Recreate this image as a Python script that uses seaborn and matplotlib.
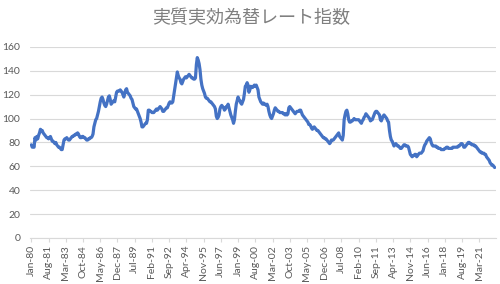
import matplotlib
matplotlib.use("Agg")
import matplotlib.pyplot as plt
import seaborn as sns
import pandas as pd
import numpy as np

title = "実質実効為替レート指数"
start_month = "1980-01"

# Monthly index values, Jan-1980 .. Aug-2022
values = [
    78, 76, 77, 76, 84, 82, 85, 83, 86, 88, 91, 90,          # 1980
    90, 88, 87, 86, 85, 84, 84, 83, 84, 85, 83, 81,          # 1981
    81, 80, 79, 80, 78, 77, 76, 76, 75, 74, 74, 78,          # 1982
    82, 83, 83, 84, 83, 82, 82, 83, 84, 85, 85, 86,          # 1983
    86, 87, 87, 88, 87, 85, 84, 84, 85, 85, 84, 84,          # 1984
    83, 82, 82, 83, 83, 84, 84, 85, 87, 93, 96, 99,          # 1985
    100, 103, 106, 110, 114, 117, 118, 116, 113, 111, 110, 112,  # 1986
    115, 118, 119, 116, 112, 113, 114, 115, 114, 118, 122, 123,  # 1987
    123, 123, 124, 123, 122, 120, 118, 121, 124, 125, 122, 121,  # 1988
    120, 119, 117, 116, 113, 110, 109, 108, 108, 106, 104, 102,  # 1989
    100, 97, 93, 93, 94, 95, 96, 96, 99, 107, 107, 106,      # 1990
    106, 105, 105, 105, 106, 107, 108, 107, 108, 109, 110, 109,  # 1991
    108, 106, 106, 107, 108, 109, 109, 111, 113, 114, 113, 113,  # 1992
    114, 119, 124, 129, 134, 139, 136, 134, 133, 130, 129, 131,  # 1993
    133, 134, 135, 134, 135, 136, 137, 136, 135, 134, 134, 133,  # 1994
    133, 134, 145, 151, 149, 146, 141, 133, 128, 125, 123, 121,  # 1995
    118, 117, 117, 116, 115, 114, 114, 113, 112, 111, 110, 108,  # 1996
    102, 100, 101, 103, 108, 110, 111, 110, 109, 107, 108, 110,  # 1997
    110, 112, 109, 106, 103, 101, 99, 96, 99, 106, 112, 115,     # 1998
    118, 116, 115, 113, 112, 114, 116, 121, 127, 128, 130, 128,  # 1999
    122, 124, 127, 126, 126, 127, 128, 127, 128, 126, 124, 118,  # 2000
    116, 114, 113, 112, 113, 112, 112, 111, 112, 110, 106, 103,  # 2001
    101, 100, 102, 104, 107, 109, 108, 107, 106, 106, 105, 105,  # 2002
    105, 105, 104, 104, 103, 104, 103, 104, 109, 110, 109, 108,  # 2003
    107, 106, 105, 104, 105, 106, 106, 106, 107, 107, 105, 103,  # 2004
    102, 101, 100, 99, 98, 97, 95, 95, 94, 92, 91, 92,       # 2005
    93, 92, 91, 90, 90, 89, 88, 87, 86, 85, 84, 84,          # 2006
    83, 83, 82, 81, 80, 79, 80, 82, 82, 82, 83, 84,          # 2007
    85, 86, 87, 88, 85, 84, 83, 82, 86, 99, 103, 106,        # 2008
    107, 104, 99, 97, 97, 98, 98, 99, 100, 99, 99, 99,       # 2009
    99, 99, 98, 97, 96, 98, 99, 101, 102, 104, 103, 102,     # 2010
    101, 100, 98, 99, 99, 101, 103, 105, 106, 106, 105, 104, # 2011
    103, 99, 98, 100, 102, 103, 102, 101, 100, 98, 97, 90,   # 2012
    85, 82, 81, 79, 77, 78, 79, 78, 77, 77, 76, 75,          # 2013
    75, 76, 77, 78, 78, 77, 77, 77, 76, 73, 70, 69,          # 2014
    68, 69, 69, 70, 70, 68, 69, 70, 71, 71, 71, 72,          # 2015
    73, 76, 78, 79, 81, 82, 83, 84, 83, 80, 78, 77,          # 2016
    77, 77, 77, 76, 76, 75, 75, 75, 74, 74, 74, 74,          # 2017
    75, 75, 76, 76, 75, 75, 75, 75, 75, 76, 76, 76,          # 2018
    76, 76, 76, 77, 77, 78, 79, 79, 78, 76, 76, 77,          # 2019
    78, 79, 80, 80, 79, 79, 78, 78, 78, 77, 77, 76,          # 2020
    75, 74, 73, 72, 72, 71, 71, 71, 70, 70, 68, 67,          # 2021
    66, 65, 63, 62, 61, 61, 60, 59,                          # 2022
]

tick_labels = ["Jan-80", "Aug-81", "Mar-83", "Oct-84", "May-86", "Dec-87",
               "Jul-89", "Feb-91", "Sep-92", "Apr-94", "Nov-95", "Jun-97",
               "Jan-99", "Aug-00", "Mar-02", "Oct-03", "May-05", "Dec-06",
               "Jul-08", "Feb-10", "Sep-11", "Apr-13", "Nov-14", "Jun-16",
               "Jan-18", "Aug-19", "Mar-21"]
y_ticks = [0, 20, 40, 60, 80, 100, 120, 140, 160]

months = pd.date_range(start_month, periods=len(values), freq="MS").strftime("%b-%y").tolist()
df = pd.DataFrame({"pos": np.arange(len(values)), "month": months, "value": values})
tick_pos = [months.index(l) for l in tick_labels]

sns.set_theme(style="white")
plt.rcParams["font.family"] = ["Lato", "Noto Sans CJK JP", "DejaVu Sans"]

fig = plt.figure(figsize=(5.0, 2.84), dpi=100)
ax = fig.add_axes([0.06, 0.162, 0.932, 0.673])

sns.lineplot(data=df, x="pos", y="value", ax=ax, color="#4472C4", linewidth=2.3)

ax.set_ylim(0, 160)
ax.set_xlim(-1.5, len(values) + 0.5)
ax.set_yticks(y_ticks)
ax.set_yticklabels([str(v) for v in y_ticks])
ax.set_xticks(tick_pos)
ax.set_xticklabels(tick_labels, rotation=90)
ax.grid(axis="y", color="#D9D9D9", linewidth=0.8)
ax.set_axisbelow(True)
for s in ["top", "right", "left"]:
    ax.spines[s].set_visible(False)
ax.spines["bottom"].set_color("#D9D9D9")
ax.spines["bottom"].set_linewidth(0.8)
ax.tick_params(axis="y", length=0, labelsize=7.5, labelcolor="#595959", pad=7)
ax.tick_params(axis="x", length=3, width=0.8, color="#D9D9D9", labelsize=7.5,
               labelcolor="#595959", pad=2, bottom=True)
ax.set_xlabel("")
ax.set_ylabel("")

fig.text(0.502, 0.937, title, ha="center", va="center", fontsize=13,
         color="#7F7F7F", family=["Noto Sans CJK JP", "DejaVu Sans"])

fig.savefig("out.png", dpi=100)
